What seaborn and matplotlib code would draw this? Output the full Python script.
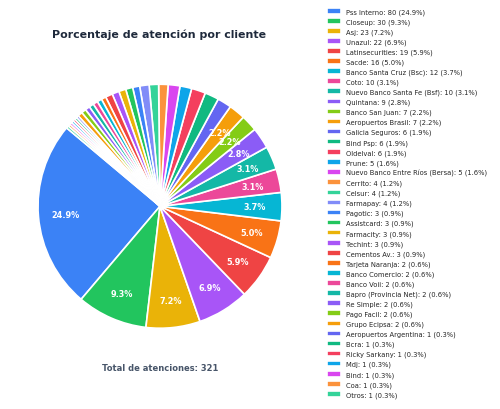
import matplotlib
matplotlib.use("Agg")
import matplotlib.pyplot as plt
import seaborn as sns

sns.set_theme(style="white")
plt.rcParams['font.family'] = ['DejaVu Sans']

clientes = ["Pss Interno", "Closeup", "Asj", "Unazul", "Latinsecurities", "Sacde",
            "Banco Santa Cruz (Bsc)", "Coto", "Nuevo Banco Santa Fe (Bsf)", "Quintana",
            "Banco San Juan", "Aeropuertos Brasil", "Galicia Seguros", "Bind Psp", "Oldelval",
            "Prune", "Nuevo Banco Entre Ríos (Bersa)", "Cerrito", "Celsur", "Farmapay",
            "Pagotic", "Assistcard", "Farmacity", "Techint", "Cementos Av.",
            "Tarjeta Naranja", "Banco Comercio", "Banco Voii", "Bapro (Provincia Net)",
            "Re Simple", "Pago Facil", "Grupo Ecipsa", "Aeropuertos Argentina", "Bcra",
            "Ricky Sarkany", "Mdj", "Bind", "Coa", "Otros"]
atenciones = [80, 30, 23, 22, 19, 16, 12, 10, 10, 9, 7, 7, 6, 6, 6, 5, 5, 4, 4, 4,
              3, 3, 3, 3, 3, 2, 2, 2, 2, 2, 2, 2, 1, 1, 1, 1, 1, 1, 1]

paleta = ["#3b82f6", "#22c55e", "#eab308", "#a855f7", "#ef4444", "#f97316", "#06b6d4",
          "#ec4899", "#14b8a6", "#8b5cf6", "#84cc16", "#f59e0b", "#6366f1", "#10b981",
          "#f43f5e", "#0ea5e9", "#d946ef", "#fb923c", "#34d399", "#818cf8"]
colores = [paleta[i % len(paleta)] for i in range(len(atenciones))]

total = sum(atenciones)

fig = plt.figure(figsize=(5, 4.1), dpi=100)
ax = fig.add_axes([0.076, 0.197, 0.488, 0.595])

wedges, _, autotexts = ax.pie(
    atenciones, colors=colores, startangle=140,
    autopct=lambda p: f"{p:.1f}%" if p > 2 else "",
    pctdistance=0.78,
    wedgeprops=dict(edgecolor="white", linewidth=1.2),
    textprops=dict(color="white", fontsize=5.9, fontweight="bold"))
ax.set_xlim(-1, 1)
ax.set_ylim(-1, 1)
ax.set_aspect("equal")

fig.text(0.318, 0.915, "Porcentaje de atención por cliente", ha="center", va="center",
         fontsize=7.9, fontweight="bold", color="#1e293b")
fig.text(0.32, 0.102, f"Total de atenciones: {total}", ha="center", va="center",
         fontsize=6, fontweight="bold", color="#475569")

etiquetas = [f"{c}: {v} ({v / total * 100:.1f}%)" for c, v in zip(clientes, atenciones)]
fig.legend(wedges, etiquetas, loc="upper left", bbox_to_anchor=(0.649, 0.985),
           frameon=False, fontsize=4.9, labelspacing=0.5, handlelength=2.06,
           handleheight=0.9, handletextpad=0.75, borderaxespad=0)

fig.savefig("out.png", dpi=100)
